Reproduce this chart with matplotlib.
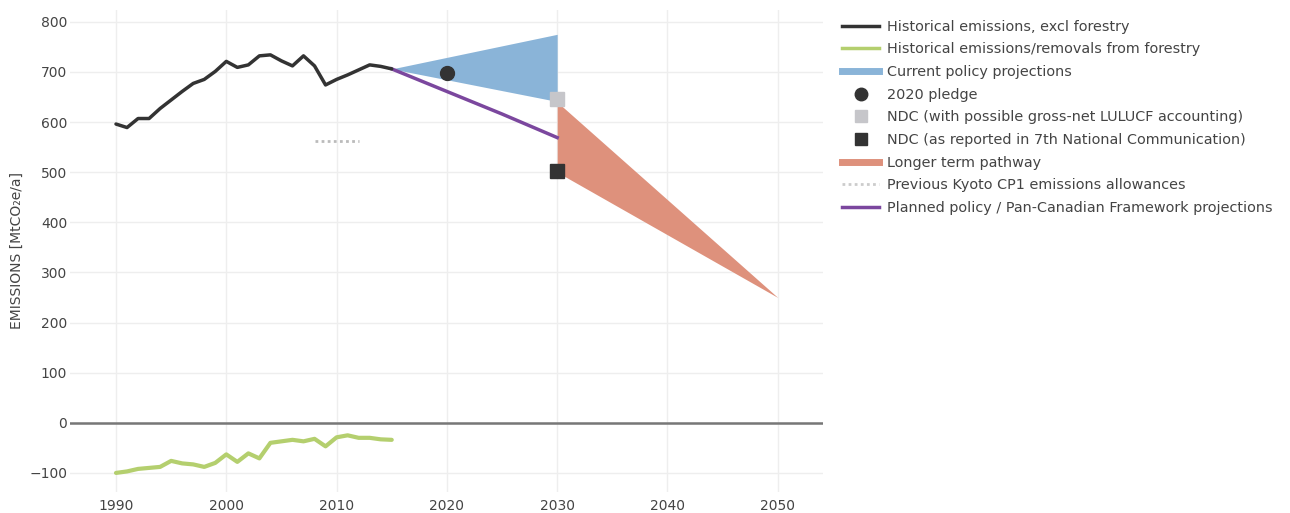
import numpy as np
import matplotlib.pyplot as plt
from matplotlib.lines import Line2D

# historical data
years_hist = list(range(1990, 2016))
hist_excl = [596, 589, 607, 607, 627, 644, 661, 677, 685, 701, 721, 709, 714,
             732, 734, 722, 712, 732, 712, 674, 685, 694, 704, 714, 711, 706]
forestry = [-100, -97, -92, -90, -88, -76, -81, -83, -88, -80, -63, -78, -61,
            -71, -40, -37, -34, -37, -32, -47, -29, -25, -30, -30, -33, -34]

# projections
cur_years = [2015, 2030]
cur_upper = [706, 775]
cur_lower = [706, 641]

planned_years = [2015, 2020, 2025, 2030]
planned = [706, 661, 616, 569]

long_years = [2030, 2050]
long_upper = [640, 250]
long_lower = [500, 250]

kyoto_years = [2008, 2012]
kyoto = [562, 562]

pledge_2020 = (2020, 697)
ndc_gross_net = (2030, 645)
ndc_reported = (2030, 503)

c_black = '#333333'
c_green = '#b4cf6e'
c_blue = '#8ab4d8'
c_red = '#de917c'
c_purple = '#7b479e'
c_grey = '#c6c6ca'
c_text = '#444444'

plt.rcParams['font.family'] = ['DejaVu Sans']

fig = plt.figure(figsize=(12.9, 5.13), dpi=100)
ax = fig.add_axes([70 / 1290, 0.041, 753 / 1290, 0.94])

ax.fill_between(cur_years, cur_lower, cur_upper, color=c_blue, lw=0, zorder=2)
ax.fill_between(long_years, long_lower, long_upper, color=c_red, lw=0, zorder=2)
ax.plot(years_hist, hist_excl, color=c_black, lw=2.5, zorder=4, solid_capstyle='round')
ax.plot(years_hist, forestry, color=c_green, lw=3, zorder=4, solid_capstyle='round')
ax.plot(planned_years, planned, color=c_purple, lw=2.5, zorder=3)
ax.plot(kyoto_years, kyoto, color='#bbbbbb', lw=2, ls=(0, (1, 1.2)), zorder=3)
ax.plot(*pledge_2020, 'o', color=c_black, ms=10, zorder=5)
ax.plot(*ndc_gross_net, 's', color=c_grey, ms=10, zorder=5)
ax.plot(*ndc_reported, 's', color=c_black, ms=10, zorder=5)

ax.axhline(0, color='#777777', lw=1.8, zorder=1)

ax.set_xlim(1985.83, 2054.1)
ax.set_ylim(-138, 824)
ax.set_xticks([1990, 2000, 2010, 2020, 2030, 2040, 2050])
ax.set_yticks([-100, 0, 100, 200, 300, 400, 500, 600, 700, 800])
ax.yaxis.set_major_formatter(plt.FuncFormatter(lambda v, p: '\u2212100' if v < 0 else '%d' % v))
ax.grid(color='#eeeeee', lw=1)
ax.set_axisbelow(True)
for s in ax.spines.values():
    s.set_visible(False)
ax.tick_params(length=0, labelsize=10, colors=c_text)
ax.tick_params(axis='y', pad=2)
ax.tick_params(axis='x', pad=5)
ax.set_ylabel('EMISSIONS [MtCO\u2082e/a]', fontsize=10, color=c_text)
ax.yaxis.set_label_coords(-46 / 753, 0.5)

handles = [
    Line2D([], [], color=c_black, lw=2.5),
    Line2D([], [], color=c_green, lw=2.5),
    Line2D([], [], color=c_blue, lw=5),
    Line2D([], [], color=c_black, marker='o', ls='none', ms=9),
    Line2D([], [], color=c_grey, marker='s', ls='none', ms=9),
    Line2D([], [], color=c_black, marker='s', ls='none', ms=9),
    Line2D([], [], color=c_red, lw=5),
    Line2D([], [], color='#cccccc', lw=2, ls=(0, (1, 1.2))),
    Line2D([], [], color=c_purple, lw=2.5),
]
labels = [
    'Historical emissions, excl forestry',
    'Historical emissions/removals from forestry',
    'Current policy projections',
    '2020 pledge',
    'NDC (with possible gross-net LULUCF accounting)',
    'NDC (as reported in 7th National Communication)',
    'Longer term pathway',
    'Previous Kyoto CP1 emissions allowances',
    'Planned policy / Pan-Canadian Framework projections',
]
leg = fig.legend(handles, labels, loc='upper left', bbox_to_anchor=(0.643, 0.987),
                 frameon=False, fontsize=10.4, handlelength=2.55, handletextpad=0.5,
                 labelspacing=0.6, labelcolor=c_text)

fig.savefig('out.png', dpi=100)
